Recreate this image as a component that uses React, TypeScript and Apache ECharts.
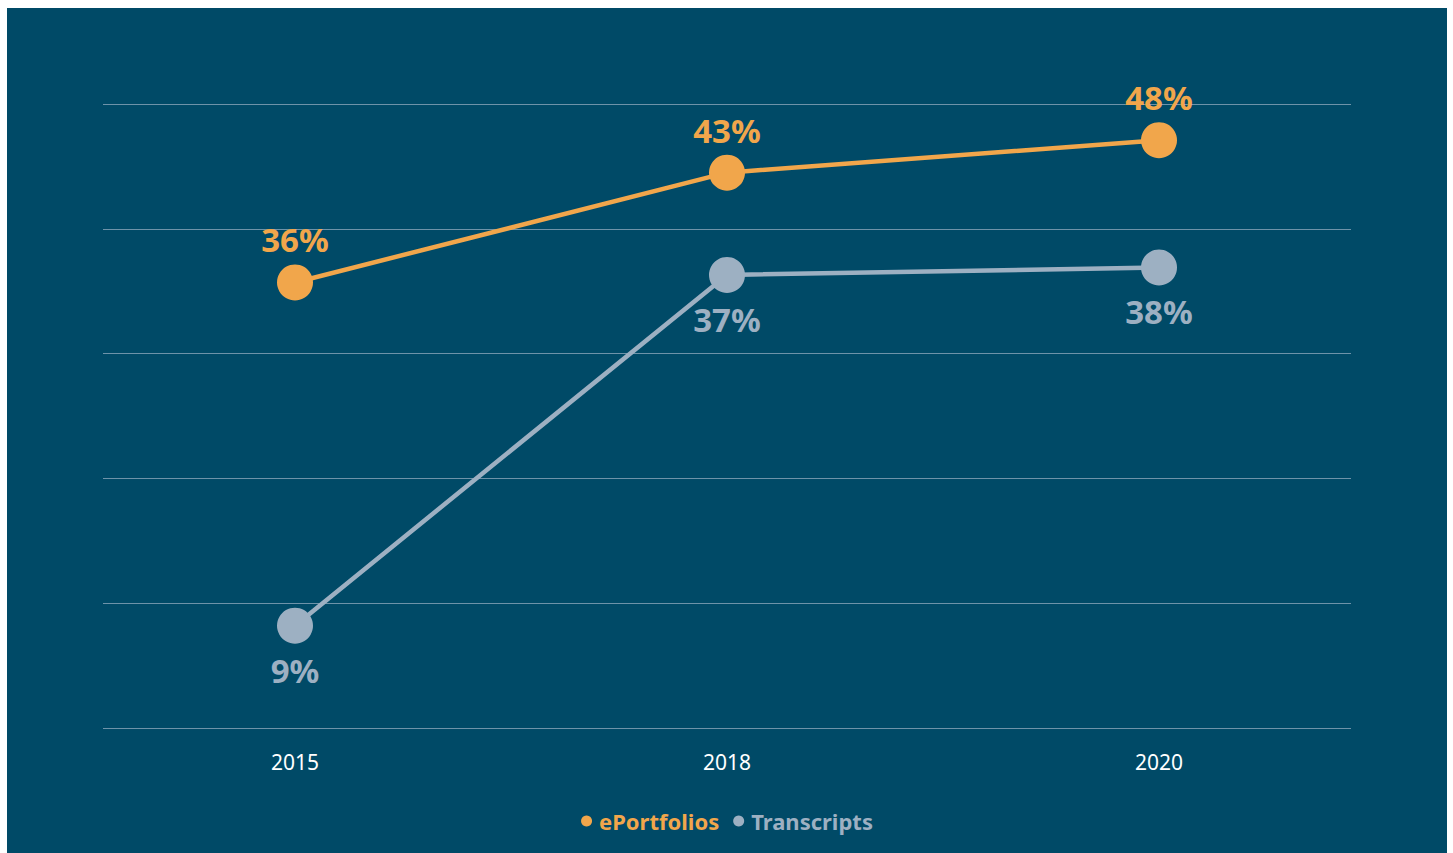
import React, { useEffect, useRef } from "react";
import * as echarts from "echarts";

const categories = ["2015", "2018", "2020"];
const ePortfolioValues = [35.7, 44.5, 47.1];
const ePortfolioLabels = ["36%", "43%", "48%"];
const transcriptValues = [8.2, 36.3, 36.9];
const transcriptLabels = ["9%", "37%", "38%"];
const yTicks = [0, 10, 20, 30, 40, 50];

const BG = "#004A67";
const ORANGE = "#F1A64B";
const GREY = "#9DB0C2";
const GRID = "#6E93A9";
const FONT = "'Noto Sans', sans-serif";

export default function App() {
  const ref = useRef<HTMLDivElement>(null);
  useEffect(() => {
    if (!ref.current) return;
    const chart = echarts.init(ref.current, undefined, { renderer: "svg" });
    const yMin = yTicks[0];
    const yMax = yTicks[yTicks.length - 1];
    const yInterval = yTicks[1] - yTicks[0];
    chart.setOption({
      animation: false,
      backgroundColor: BG,
      textStyle: { fontFamily: FONT },
      grid: [
        { left: 96, right: 96, top: 96, bottom: 125 },
        { left: 288, right: 288, top: 96, bottom: 125 },
      ],
      xAxis: [
        {
          gridIndex: 0,
          type: "category",
          data: categories,
          show: false,
        },
        {
          gridIndex: 1,
          type: "category",
          data: categories,
          boundaryGap: false,
          axisLine: { show: false },
          axisTick: { show: false },
          axisLabel: { color: "#FFFFFF", fontSize: 21, margin: 23, fontFamily: FONT },
          splitLine: { show: false },
        },
      ],
      yAxis: [
        {
          gridIndex: 0,
          type: "value",
          min: yMin,
          max: yMax,
          interval: yInterval,
          axisLabel: { show: false },
          axisLine: { show: false },
          axisTick: { show: false },
          splitLine: { show: true, lineStyle: { color: GRID, width: 1 } },
        },
        {
          gridIndex: 1,
          type: "value",
          min: yMin,
          max: yMax,
          interval: yInterval,
          show: false,
          splitLine: { show: false },
        },
      ],
      legend: {
        bottom: 16,
        left: "center",
        icon: "circle",
        itemWidth: 11,
        itemHeight: 11,
        itemGap: 14,
        textStyle: { fontSize: 22, fontWeight: "bold", fontFamily: FONT, padding: [0, 0, 0, 2] },
        data: [
          { name: "ePortfolios", textStyle: { color: ORANGE } },
          { name: "Transcripts", textStyle: { color: GREY } },
        ],
      },
      series: [
        {
          name: "ePortfolios",
          type: "line",
          xAxisIndex: 1,
          yAxisIndex: 1,
          data: ePortfolioValues,
          color: ORANGE,
          symbol: "circle",
          symbolSize: 36,
          lineStyle: { width: 4.5, color: ORANGE },
          itemStyle: { color: ORANGE },
          label: {
            show: true,
            position: "top",
            distance: 8,
            color: ORANGE,
            fontSize: 33,
            fontWeight: "bold",
            fontFamily: FONT,
            formatter: (p: any) => ePortfolioLabels[p.dataIndex],
          },
          z: 3,
        },
        {
          name: "Transcripts",
          type: "line",
          xAxisIndex: 1,
          yAxisIndex: 1,
          data: transcriptValues,
          color: GREY,
          symbol: "circle",
          symbolSize: 36,
          lineStyle: { width: 4.5, color: GREY },
          itemStyle: { color: GREY },
          label: {
            show: true,
            position: "bottom",
            distance: 10,
            color: GREY,
            fontSize: 33,
            fontWeight: "bold",
            fontFamily: FONT,
            formatter: (p: any) => transcriptLabels[p.dataIndex],
          },
          z: 2,
        },
      ],
    });
    return () => chart.dispose();
  }, []);
  return (
    <div
      ref={ref}
      style={{ position: "absolute", left: 7, top: 8, width: 1440, height: 845 }}
    />
  );
}
